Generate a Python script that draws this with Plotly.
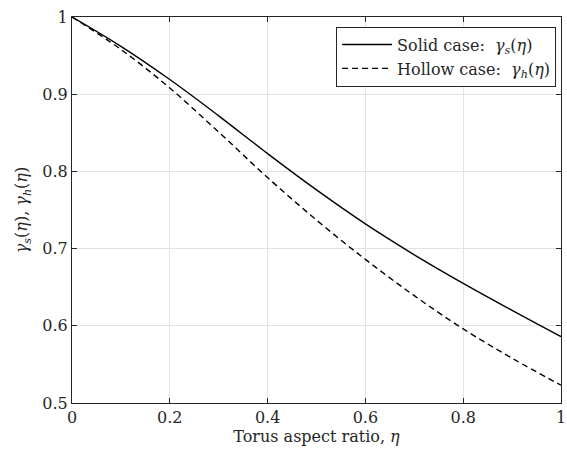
import plotly.graph_objects as go

# aspect ratio samples and the two read-off curves
eta = [0.0, 0.1, 0.2, 0.3, 0.4, 0.5, 0.6, 0.7, 0.8, 0.9, 1.0]
gamma_solid = [1.0, 0.962, 0.919, 0.872, 0.823, 0.776, 0.732, 0.692, 0.655, 0.620, 0.586]
gamma_hollow = [1.0, 0.958, 0.908, 0.851, 0.792, 0.737, 0.686, 0.639, 0.596, 0.558, 0.523]

x_ticks = [0, 0.2, 0.4, 0.6, 0.8, 1]
y_ticks = [0.5, 0.6, 0.7, 0.8, 0.9, 1]

FONT = "DejaVu Serif"
AX = "#262626"

fig = go.Figure()
fig.add_trace(go.Scatter(x=eta, y=gamma_solid, mode="lines", line_shape="spline",
                         line=dict(color="black", width=1.4),
                         name="Solid case:  <i>γ<sub>s</sub></i>(<i>η</i>)"))
fig.add_trace(go.Scatter(x=eta, y=gamma_hollow, mode="lines", line_shape="spline",
                         line=dict(color="black", width=1.4, dash="6px,4px"),
                         name="Hollow case:  <i>γ<sub>h</sub></i>(<i>η</i>)"))

axis_common = dict(showline=True, linecolor=AX, linewidth=1.2, mirror="ticks",
                   ticks="inside", ticklen=5, tickcolor=AX, tickwidth=1,
                   showgrid=True, gridcolor="#e3e3e3", gridwidth=1,
                   zeroline=False, ticklabeloverflow="allow",
                   tickfont=dict(family=FONT, size=16, color=AX))

fig.update_xaxes(range=[0, 1], tickvals=x_ticks, ticktext=[f"{v:g}" for v in x_ticks],
                 title=dict(text="Torus aspect ratio, <i>η</i>", font=dict(family=FONT, size=16, color=AX), standoff=2),
                 **axis_common)
fig.update_yaxes(range=[0.5, 1], tickvals=y_ticks, ticktext=[f"{v:g}" for v in y_ticks],
                 title=dict(text="<i>γ<sub>s</sub></i>(<i>η</i>), <i>γ<sub>h</sub></i>(<i>η</i>)",
                            font=dict(family=FONT, size=16, color=AX), standoff=10),
                 **axis_common)

fig.update_layout(width=567, height=456, margin=dict(l=72, r=1, t=17, b=53),
                  plot_bgcolor="white", paper_bgcolor="white",
                  font=dict(family=FONT, color=AX),
                  legend=dict(x=0.99, y=0.975, xanchor="right", yanchor="top",
                              bgcolor="white", bordercolor=AX, borderwidth=1,
                              font=dict(family=FONT, size=16, color=AX),
                              itemwidth=50, tracegroupgap=0),
                  showlegend=True)

fig.write_html("out.html", config={"displayModeBar": False},
               post_script="document.body.style.margin='0';")
